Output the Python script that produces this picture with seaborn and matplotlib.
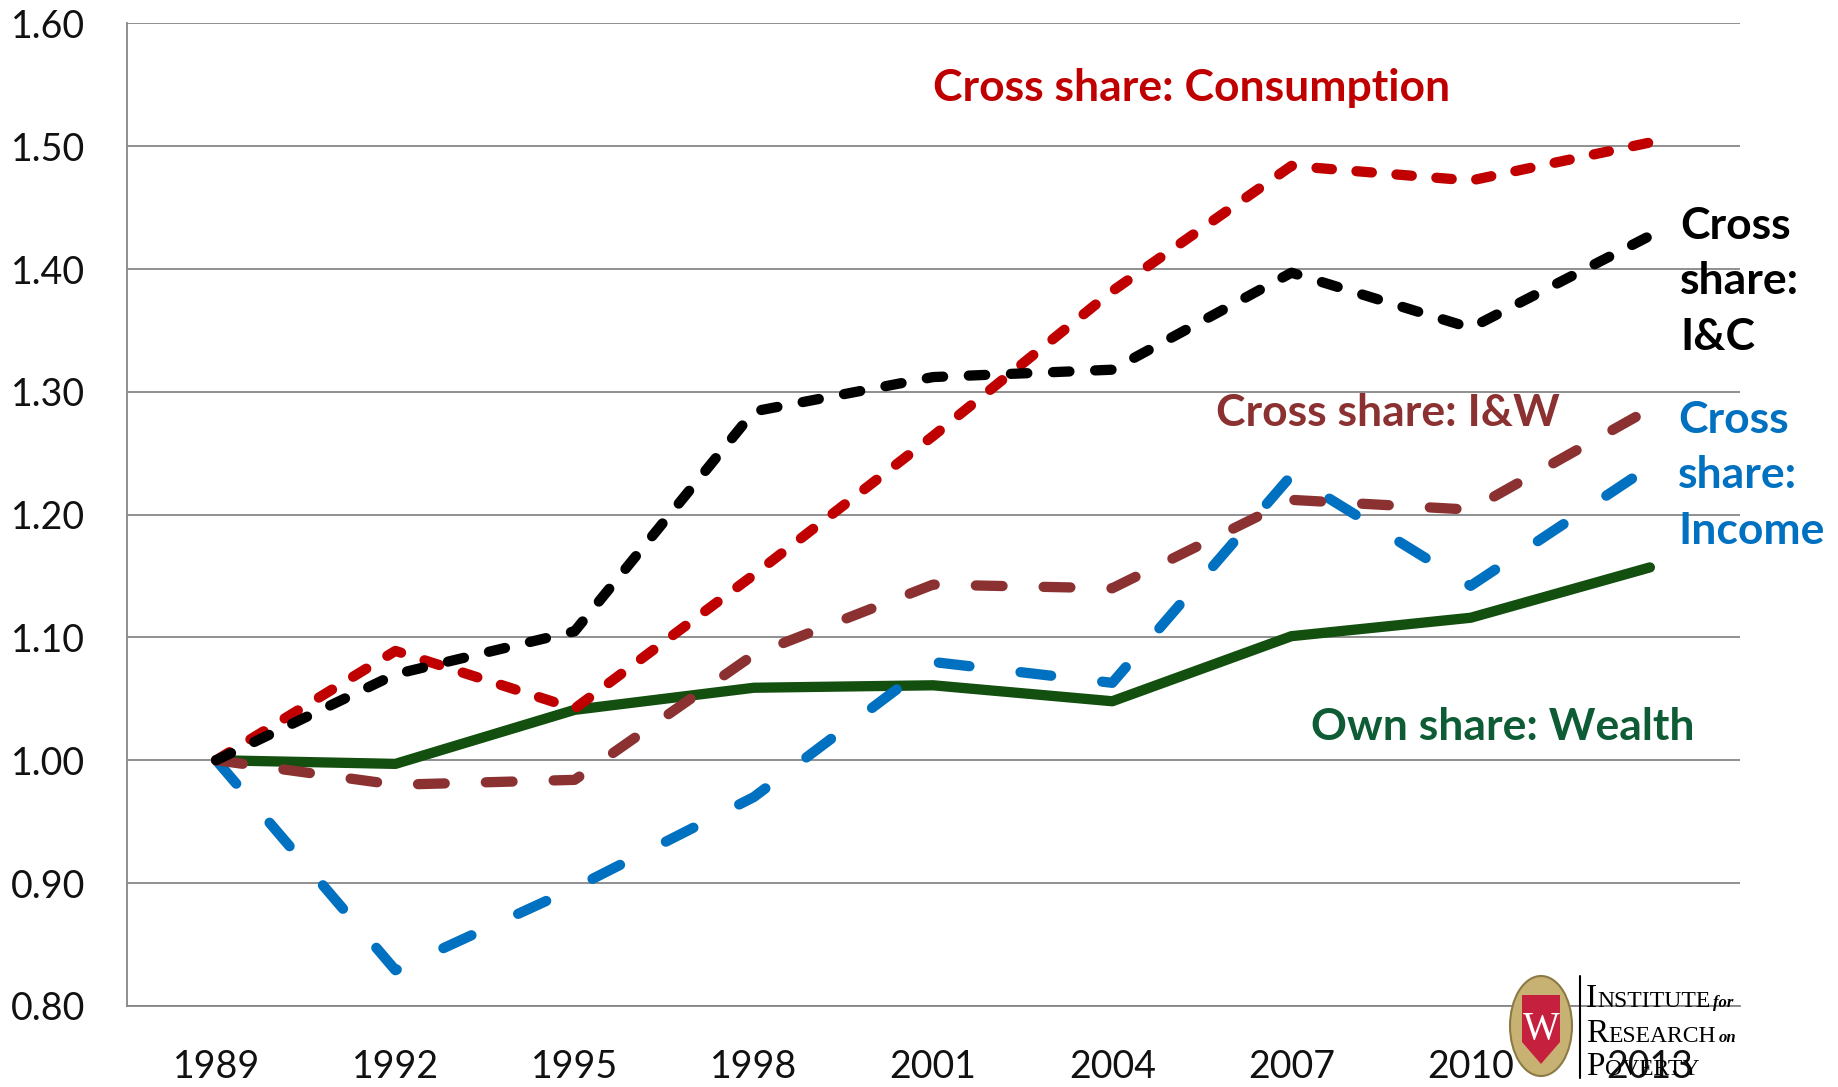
import numpy as np
import pandas as pd
import matplotlib
matplotlib.use("Agg")
import matplotlib.pyplot as plt
import seaborn as sns
from matplotlib.patches import Ellipse, Polygon
from matplotlib.ticker import FixedLocator

# ---------------- data ----------------
years = ["1989", "1992", "1995", "1998", "2001", "2004", "2007", "2010", "2013"]
wealth = [1.000, 0.997, 1.041, 1.059, 1.061, 1.048, 1.101, 1.116, 1.157]
income = [1.000, 0.829, 0.896, 0.970, 1.080, 1.063, 1.232, 1.142, 1.239]
iw = [1.000, 0.980, 0.984, 1.086, 1.143, 1.140, 1.212, 1.204, 1.286]
consumption = [1.000, 1.089, 1.042, 1.151, 1.264, 1.382, 1.484, 1.472, 1.503]
ic = [1.000, 1.070, 1.105, 1.284, 1.312, 1.318, 1.397, 1.352, 1.427]
y_ticks = [0.80, 0.90, 1.00, 1.10, 1.20, 1.30, 1.40, 1.50, 1.60]

series_names = ["Own share: Wealth", "Cross share: Income", "Cross share: I&W",
                "Cross share: Consumption", "Cross share: I&C"]
series_vals = [wealth, income, iw, consumption, ic]

pos = np.arange(len(years))
df = pd.concat([pd.DataFrame({"pos": pos, "value": v, "series": n})
                for n, v in zip(series_names, series_vals)], ignore_index=True)

colors = {"Own share: Wealth": "#134F0F",
          "Cross share: Income": "#0070C0",
          "Cross share: I&W": "#8B3131",
          "Cross share: Consumption": "#C00000",
          "Cross share: I&C": "#000000"}
# dash patterns in units of linewidth (on, off); matplotlib scales them by linewidth
dashes = {"Own share: Wealth": None,
          "Cross share: Income": (3.0, 5.0),
          "Cross share: I&W": (2.6, 4.0),
          "Cross share: Consumption": (1.5, 2.4),
          "Cross share: I&C": (1.6, 2.5)}
label_colors = {"Own share: Wealth": "#0E5C35",
                "Cross share: Income": "#0070C0",
                "Cross share: I&W": "#8B3131",
                "Cross share: Consumption": "#C00000",
                "Cross share: I&C": "#000000"}

# ---------------- figure ----------------
sns.set_theme(style="white")
plt.rcParams["font.family"] = ["Lato", "DejaVu Sans"]
plt.rcParams["lines.scale_dashes"] = True

W, H = 1838, 1087
fig = plt.figure(figsize=(W / 100, H / 100), dpi=100)
ax = fig.add_axes([126.6 / W, 1 - 1005.8 / H, (1739.5 - 126.6) / W, (1005.8 - 23.4) / H])

LW = 7.4
for name in series_names:
    sub = df[df["series"] == name]
    sns.lineplot(data=sub, x="pos", y="value", ax=ax, color=colors[name],
                 linewidth=LW, sort=False, legend=False, zorder=3)
    ln = ax.lines[-1]
    ln.set_solid_capstyle("round")
    ln.set_solid_joinstyle("round")
    ln.set_dash_capstyle("round")
    ln.set_dash_joinstyle("round")
    if dashes[name] is not None:
        ln.set_dashes(dashes[name])

ax.set_xlim(-0.5, len(years) - 0.5)
ax.set_ylim(0.80, 1.60)

grid_col = "#878787"
ax.yaxis.set_major_locator(FixedLocator(y_ticks))
ax.set_yticklabels([f"{t:.2f}" for t in y_ticks], fontsize=27, color="#111111")
ax.grid(axis="y", color=grid_col, linewidth=1.3, zorder=0)
ax.set_axisbelow(True)
ax.set_xticks(pos)
ax.set_xticklabels(years, fontsize=27, color="#111111")
ax.xaxis.set_minor_locator(FixedLocator(np.arange(-0.5, len(years), 1.0)))
ax.tick_params(axis="x", which="major", length=0, pad=31)
ax.tick_params(axis="x", which="minor", length=14, width=1.3, color=grid_col, direction="out")
ax.tick_params(axis="y", which="major", length=13, width=1.3, color=grid_col, direction="out", pad=17)
ax.set_xlabel("")
ax.set_ylabel("")
for s in ["top", "right"]:
    ax.spines[s].set_visible(False)
for s in ["left", "bottom"]:
    ax.spines[s].set_color(grid_col)
    ax.spines[s].set_linewidth(1.3)

# ---------------- series labels ----------------
fs = 32
ax.text(5.44, 1.547, "Cross share: Consumption", color=label_colors["Cross share: Consumption"],
        fontsize=fs, fontweight="bold", ha="center", va="center")
ax.text(8.168, 1.390, "Cross\nshare:\nI&C", color=label_colors["Cross share: I&C"],
        fontsize=fs, fontweight="bold", ha="left", va="center", linespacing=1.47)
ax.text(6.54, 1.283, "Cross share: I&W", color=label_colors["Cross share: I&W"],
        fontsize=fs, fontweight="bold", ha="center", va="center")
ax.text(8.157, 1.232, "Cross\nshare:\nIncome", color=label_colors["Cross share: Income"],
        fontsize=fs, fontweight="bold", ha="left", va="center", linespacing=1.47)
ax.text(7.18, 1.027, "Own share: Wealth", color=label_colors["Own share: Wealth"],
        fontsize=fs, fontweight="bold", ha="center", va="center")

# ---------------- logo (IRP) ----------------
def fx(px):
    return px / W

def fy(py):
    return 1 - py / H

shield = Ellipse((fx(1541), fy(1026)), 62 / W, 100 / H, transform=fig.transFigure,
                 facecolor="#C8B273", edgecolor="#8C7A45", linewidth=1.5, zorder=5)
fig.patches.append(shield)
red = Polygon([(fx(1522), fy(995)), (fx(1560), fy(995)), (fx(1560), fy(1042)),
               (fx(1541), fy(1064)), (fx(1522), fy(1042))], closed=True,
              transform=fig.transFigure, facecolor="#C5203E", edgecolor="none", zorder=6)
fig.patches.append(red)
fig.text(fx(1541), fy(1029), "W", transform=fig.transFigure, family="Liberation Serif",
         fontsize=28, color="white", ha="center", va="center", zorder=7)
fig.add_artist(plt.Line2D([fx(1580), fx(1580)], [fy(976), fy(1078)], transform=fig.transFigure,
                          color="black", linewidth=1.5))

renderer = fig.canvas.get_renderer()

def small_caps(x_px, base_px, word, big=24, small=17, tail=None):
    t = fig.text(fx(x_px), fy(base_px), word[0], family="Liberation Serif", fontsize=big,
                 color="black", ha="left", va="baseline")
    bb = t.get_window_extent(renderer)
    t2 = fig.text(bb.x1 / W, fy(base_px), word[1:], family="Liberation Serif", fontsize=small,
                  color="black", ha="left", va="baseline")
    bb2 = t2.get_window_extent(renderer)
    if tail:
        fig.text((bb2.x1 + 3) / W, fy(base_px), tail, family="Liberation Serif", fontsize=12,
                 style="italic", fontweight="bold", color="black", ha="left", va="baseline")

small_caps(1586, 1007, "INSTITUTE", tail="for")
small_caps(1586, 1042, "RESEARCH", tail="on")
small_caps(1586, 1075, "POVERTY")

fig.savefig("out.png", dpi=100, facecolor="white")
